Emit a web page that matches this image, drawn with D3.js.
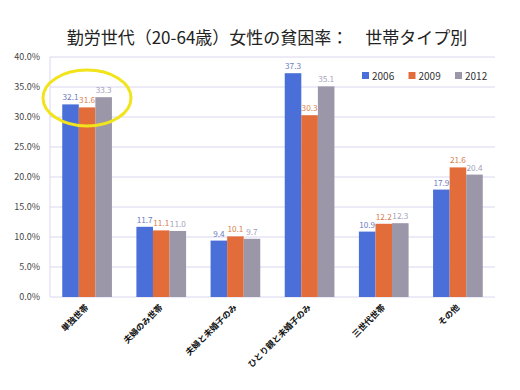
<!DOCTYPE html>
<html>
<head>
<meta charset="utf-8">
<script src="https://cdn.jsdelivr.net/npm/d3@7"></script>
<style>
body { margin: 0; background: #fff; }
text { font-family: "Noto Sans CJK JP", "Noto Sans", sans-serif; }
</style>
</head>
<body>
<svg id="chart" width="520" height="390"></svg>
<script>
var categories = ['単独世帯', '夫婦のみ世帯', '夫婦と未婚子のみ', 'ひとり親と未婚子のみ', '三世代世帯', 'その他']
var years = ['2006', '2009', '2012']
var v2006 = [32.1, 11.7, 9.4, 37.3, 10.9, 17.9]
var v2009 = [31.6, 11.1, 10.1, 30.3, 12.2, 21.6]
var v2012 = [33.3, 11.0, 9.7, 35.1, 12.3, 20.4]
var yTicks = [0, 5, 10, 15, 20, 25, 30, 35, 40]

var series = [v2006, v2009, v2012]
var colors = ['#4a6fd8', '#e26c3a', '#9b96a8']
var labelColors = ['#6a7cc0', '#d8804e', '#a4a2bc']

var svg = d3.select('#chart')
var pLeft = 50, pRight = 495, pTop = 57, pBottom = 297

var x = d3.scaleBand().domain(categories).range([pLeft, pRight]).paddingInner(0.33).paddingOuter(0.165)
var xs = d3.scaleBand().domain(years).range([0, x.bandwidth()])
var y = d3.scaleLinear().domain([0, 40]).range([pBottom, pTop])

// 網線
svg.append('g').selectAll('line').data(yTicks).enter()
    .append('line')
    .attr('x1', pLeft).attr('x2', pRight)
    .attr('y1', function (d) { return y(d) }).attr('y2', function (d) { return y(d) })
    .attr('stroke', '#d8d6ee').attr('stroke-width', 1)

svg.append('line').attr('x1', pLeft).attr('x2', pLeft).attr('y1', pTop).attr('y2', pBottom)
    .attr('stroke', '#d8d6ee')

svg.append('g').selectAll('text').data(yTicks).enter()
    .append('text')
    .attr('x', 40).attr('y', function (d) { return y(d) + 3 })
    .attr('text-anchor', 'end')
    .attr('font-size', 9).attr('fill', '#444')
    .text(function (d) { return d.toFixed(1) + '%' })

// 棒
series.forEach(function (vals, si) {
    var g = svg.append('g')
    g.selectAll('rect').data(vals).enter()
        .append('rect')
        .attr('x', function (d, i) { return x(categories[i]) + xs(years[si]) })
        .attr('y', function (d) { return y(d) })
        .attr('width', xs.bandwidth())
        .attr('height', function (d) { return pBottom - y(d) })
        .attr('fill', colors[si])
    g.selectAll('text').data(vals).enter()
        .append('text')
        .attr('x', function (d, i) { return x(categories[i]) + xs(years[si]) + xs.bandwidth() / 2 })
        .attr('y', function (d) { return y(d) - 4 })
        .attr('text-anchor', 'middle')
        .attr('font-size', 8.2).attr('fill', labelColors[si])
        .text(function (d) { return d.toFixed(1) })
})

// カテゴリ名
svg.append('g').selectAll('text').data(categories).enter()
    .append('text')
    .attr('transform', function (d) { return 'translate(' + (x(d) + x.bandwidth() / 2 + 2) + ',' + (pBottom + 11) + ') rotate(-45)' })
    .attr('text-anchor', 'end')
    .attr('font-size', 8.5).attr('font-weight', 'bold').attr('fill', '#111')
    .text(function (d) { return d })

// 凡例
var lg = svg.append('g').selectAll('g').data(years).enter()
    .append('g')
    .attr('transform', function (d, i) { return 'translate(' + (362 + i * 46.5) + ',72)' })
lg.append('rect').attr('width', 7).attr('height', 7).attr('fill', function (d, i) { return colors[i] })
lg.append('text').attr('x', 10).attr('y', 7.5).attr('font-size', 10).attr('fill', '#333')
    .text(function (d) { return d })

// タイトル
svg.append('text')
    .attr('x', 267).attr('y', 44)
    .attr('text-anchor', 'middle')
    .attr('font-size', 17).attr('fill', '#222')
    .text('勤労世代（20-64歳）女性の貧困率：　世帯タイプ別')

// 強調の楕円
svg.append('ellipse')
    .attr('cx', 87).attr('cy', 98).attr('rx', 44).attr('ry', 28)
    .attr('fill', 'none').attr('stroke', '#f2e41c').attr('stroke-width', 3)
</script>
</body>
</html>
